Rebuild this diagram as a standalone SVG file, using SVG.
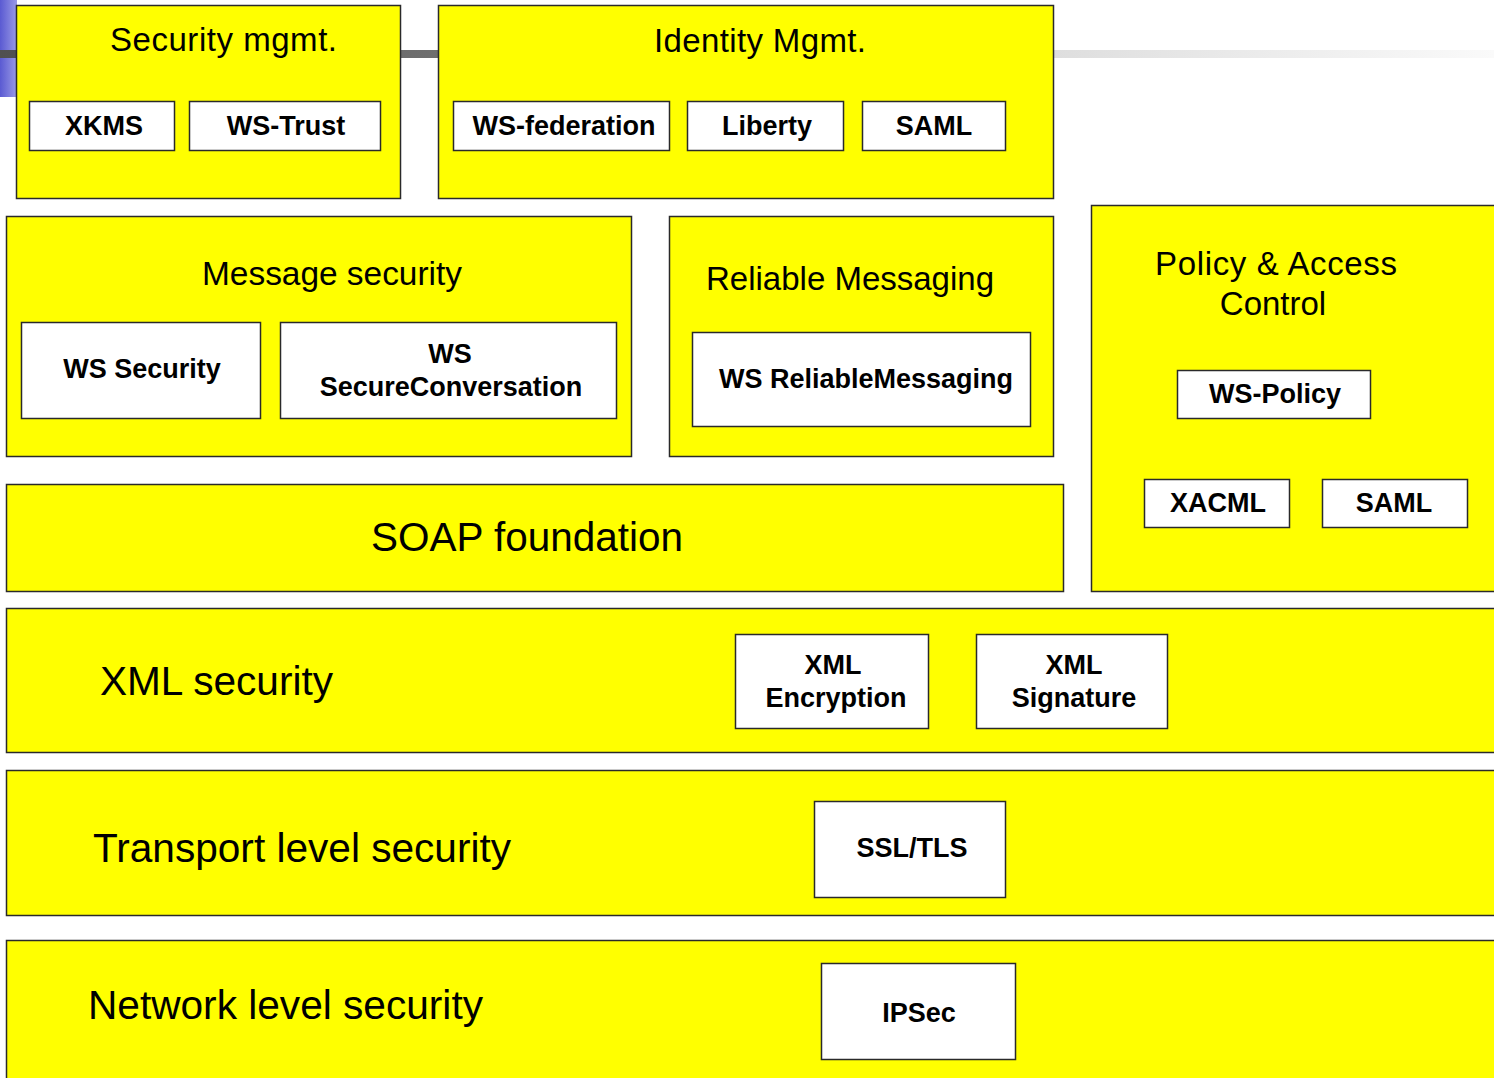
<svg xmlns="http://www.w3.org/2000/svg" width="1494" height="1078" viewBox="0 0 1494 1078">
<defs>
<linearGradient id="purp" x1="0" y1="0" x2="1" y2="0"><stop offset="0" stop-color="#5a5ad2"/><stop offset="1" stop-color="#9a9ae6"/></linearGradient>
<linearGradient id="darkbar" x1="0" y1="0" x2="1" y2="0"><stop offset="0" stop-color="#505050"/><stop offset="1" stop-color="#9a9a9a"/></linearGradient>
<linearGradient id="lightbar" x1="0" y1="0" x2="1" y2="0"><stop offset="0" stop-color="#dedede"/><stop offset="1" stop-color="#fafafa"/></linearGradient>
</defs>
<style>
.box{fill:#FFFF00;stroke:#2a2a2a;stroke-width:1.5}
.sub{fill:#FFFFFF;stroke:#2a2a2a;stroke-width:1.5}
.t{font-family:"Liberation Sans",Arial,sans-serif;fill:#000;text-anchor:middle}
.title{font-size:33px}
.big{font-size:40px}
.lbl{font-size:27px;font-weight:bold}
</style>
<rect x="0" y="0" width="1494" height="1078" fill="#FFFFFF"/>
<g id="decoration">
<rect x="0" y="0" width="17" height="97" fill="url(#purp)"/>
<rect x="0" y="50" width="1054" height="8" fill="url(#darkbar)"/>
<rect x="1054" y="50" width="440" height="8" fill="url(#lightbar)"/>
</g>
<g id="connectors"></g>
<g id="security-mgmt">
<rect class="box" x="16.5" y="5.5" width="384" height="193"/>
<text class="t title" x="223.5" y="51" font-size="32" textLength="227" lengthAdjust="spacing">Security mgmt.</text>
<rect class="sub" x="29.5" y="101.5" width="145" height="49"/>
<text class="t lbl" x="104" y="135">XKMS</text>
<rect class="sub" x="189.5" y="101.5" width="191" height="49"/>
<text class="t lbl" x="286" y="135">WS-Trust</text>
</g>
<g id="identity-mgmt">
<rect class="box" x="438.5" y="5.5" width="615" height="193"/>
<text class="t title" x="760" y="52" textLength="212" lengthAdjust="spacing">Identity Mgmt.</text>
<rect class="sub" x="453.5" y="101.5" width="216" height="49"/>
<text class="t lbl" x="564" y="135">WS-federation</text>
<rect class="sub" x="687.5" y="101.5" width="156" height="49"/>
<text class="t lbl" x="767" y="135">Liberty</text>
<rect class="sub" x="862.5" y="101.5" width="143" height="49"/>
<text class="t lbl" x="934" y="135">SAML</text>
</g>
<g id="message-security">
<rect class="box" x="6.5" y="216.5" width="625" height="240"/>
<text class="t title" x="332" y="285" textLength="260" lengthAdjust="spacingAndGlyphs">Message security</text>
<rect class="sub" x="21.5" y="322.5" width="239" height="96"/>
<text class="t lbl" x="142" y="378">WS Security</text>
<rect class="sub" x="280.5" y="322.5" width="336" height="96"/>
<text class="t lbl" x="450" y="363">WS</text>
<text class="t lbl" x="451" y="396">SecureConversation</text>
</g>
<g id="reliable-messaging">
<rect class="box" x="669.5" y="216.5" width="384" height="240"/>
<text class="t title" x="850" y="290">Reliable Messaging</text>
<rect class="sub" x="692.5" y="332.5" width="338" height="94"/>
<text class="t lbl" x="866" y="388">WS ReliableMessaging</text>
</g>
<g id="policy-access">
<rect class="box" x="1091.5" y="205.5" width="410" height="386"/>
<text class="t title" x="1276" y="275" font-size="34" textLength="242" lengthAdjust="spacing">Policy &amp; Access</text>
<text class="t title" x="1273" y="315" font-size="34">Control</text>
<rect class="sub" x="1177.5" y="370.5" width="193" height="48"/>
<text class="t lbl" x="1275" y="403">WS-Policy</text>
<rect class="sub" x="1144.5" y="479.5" width="145" height="48"/>
<text class="t lbl" x="1218" y="512">XACML</text>
<rect class="sub" x="1322.5" y="479.5" width="145" height="48"/>
<text class="t lbl" x="1394" y="512">SAML</text>
</g>
<g id="soap-foundation">
<rect class="box" x="6.5" y="484.5" width="1057" height="107"/>
<text class="t big" x="527" y="551" textLength="312" lengthAdjust="spacingAndGlyphs">SOAP foundation</text>
</g>
<g id="xml-security">
<rect class="box" x="6.5" y="608.5" width="1500" height="144"/>
<text class="t big" x="100" y="695" style="text-anchor:start" textLength="233" lengthAdjust="spacingAndGlyphs">XML security</text>
<rect class="sub" x="735.5" y="634.5" width="193" height="94"/>
<text class="t lbl" x="833" y="674">XML</text>
<text class="t lbl" x="836" y="707">Encryption</text>
<rect class="sub" x="976.5" y="634.5" width="191" height="94"/>
<text class="t lbl" x="1074" y="674">XML</text>
<text class="t lbl" x="1074" y="707">Signature</text>
</g>
<g id="transport-security">
<rect class="box" x="6.5" y="770.5" width="1500" height="145"/>
<text class="t big" x="93" y="862" style="text-anchor:start" textLength="418" lengthAdjust="spacingAndGlyphs">Transport level security</text>
<rect class="sub" x="814.5" y="801.5" width="191" height="96"/>
<text class="t lbl" x="912" y="857">SSL/TLS</text>
</g>
<g id="network-security">
<rect class="box" x="6.5" y="940.5" width="1500" height="150"/>
<text class="t big" x="88" y="1019" style="text-anchor:start" textLength="395" lengthAdjust="spacingAndGlyphs">Network level security</text>
<rect class="sub" x="821.5" y="963.5" width="194" height="96"/>
<text class="t lbl" x="919" y="1022">IPSec</text>
</g>
</svg>
